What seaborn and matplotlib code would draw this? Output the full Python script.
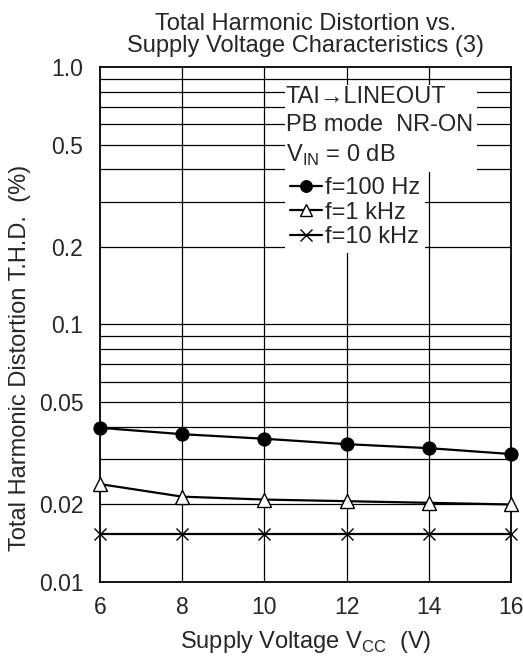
import numpy as np
import pandas as pd
import seaborn as sns
from matplotlib import pyplot as plt
from matplotlib.patches import Rectangle
from matplotlib.ticker import FixedLocator, NullFormatter, NullLocator

vcc = [6, 8, 10, 12, 14, 16]
thd_100hz = [0.0397, 0.0375, 0.0360, 0.0343, 0.0331, 0.0314]
thd_1khz = [0.0240, 0.02145, 0.0209, 0.0206, 0.0203, 0.0200]
thd_10khz = [0.0153, 0.0153, 0.0153, 0.0153, 0.0153, 0.0153]
series_names = ["f=100 Hz", "f=1 kHz", "f=10 kHz"]
ytick_vals = [0.01, 0.02, 0.05, 0.1, 0.2, 0.5, 1.0]
ytick_labels = ["0.01", "0.02", "0.05", "0.1", "0.2", "0.5", "1.0"]
note_lines = ["TAI\u2192LINEOUT", "PB mode  NR-ON", "V$_{\\mathregular{IN}}$ = 0 dB"]

FS = 17
TFS = 16.5

sns.set_theme(style="white")
plt.rcParams["font.family"] = ["Liberation Sans", "DejaVu Sans"]
plt.rcParams["mathtext.fontset"] = "custom"
plt.rcParams["mathtext.rm"] = "Liberation Sans"

df = pd.DataFrame({"vcc": vcc * 3,
                   "thd": thd_100hz + thd_1khz + thd_10khz,
                   "series": sum([[n] * len(vcc) for n in series_names], [])})

fig = plt.figure(figsize=(5.23, 6.58), dpi=100)
ax = fig.add_axes([0.1912, 0.1155, 0.7858, 0.7827])
ax.set_yscale("log")
ax.set_xlim(6, 16)
ax.set_ylim(0.01, 1.0)

# grid
grid_y = [m * 10.0 ** e for e in (-2, -1) for m in range(2, 10)] + [0.1]
for gy in grid_y:
    ax.axhline(gy, color="black", lw=0.9, zorder=1)
for gx in [8, 10, 12, 14]:
    ax.axvline(gx, color="black", lw=0.9, zorder=1)

styles = {
    "f=100 Hz": dict(marker="o", markersize=9.5, markerfacecolor="black", markeredgecolor="black"),
    "f=1 kHz": dict(marker="^", markersize=9.5, markerfacecolor="white", markeredgecolor="black", markeredgewidth=1),
    "f=10 kHz": dict(marker="x", markersize=8, markeredgecolor="black", markeredgewidth=1),
}
for name in series_names:
    sub = df[df["series"] == name]
    sns.lineplot(data=sub, x="vcc", y="thd", ax=ax, color="black", lw=1.6,
                 label=name, zorder=3, clip_on=False, **styles[name])

ax.set_xticks(vcc)
ax.set_xticklabels([str(v) for v in vcc], fontsize=TFS)
ax.yaxis.set_major_locator(FixedLocator(ytick_vals))
ax.set_yticklabels(ytick_labels, fontsize=TFS)
ax.yaxis.set_minor_locator(NullLocator())
ax.yaxis.set_minor_formatter(NullFormatter())
ax.tick_params(axis="y", length=0, pad=12)
ax.tick_params(axis="x", length=0, pad=10)
for s in ax.spines.values():
    s.set_color("black")
    s.set_linewidth(1.3)

ax.set_xlabel("Supply Voltage V$_{\\mathregular{CC}}$  (V)", fontsize=FS, labelpad=7)
ax.set_ylabel("Total Harmonic Distortion T.H.D.  (%)", fontsize=FS)
ax.yaxis.set_label_coords(-0.168, 0.435)
ax.set_title("Total Harmonic Distortion vs.\nSupply Voltage Characteristics (3)",
             fontsize=FS, linespacing=0.98, pad=11)

# white block behind the condition notes
ax.add_patch(Rectangle((0.450, 0.796), 0.467, 0.169, transform=ax.transAxes,
                       facecolor="white", edgecolor="none", zorder=4))
for yy, txt in zip([0.942, 0.887, 0.829], note_lines):
    ax.text(0.452, yy, txt, transform=ax.transAxes, fontsize=FS, va="center",
            ha="left", zorder=5)

leg = ax.legend(loc="upper left", bbox_to_anchor=(0.450, 0.796), fontsize=FS, frameon=True,
                handlelength=1.35, handletextpad=0.15, borderpad=0.2, labelspacing=0.12,
                borderaxespad=0, fancybox=False)
leg.get_frame().set_edgecolor("white")
leg.get_frame().set_facecolor("white")
leg.get_frame().set_alpha(1)
leg.get_frame().set_linewidth(0)
leg.set_zorder(5)
for h in leg.legend_handles:
    h.set_markersize(8.5)

fig.savefig("out.png", dpi=100)
